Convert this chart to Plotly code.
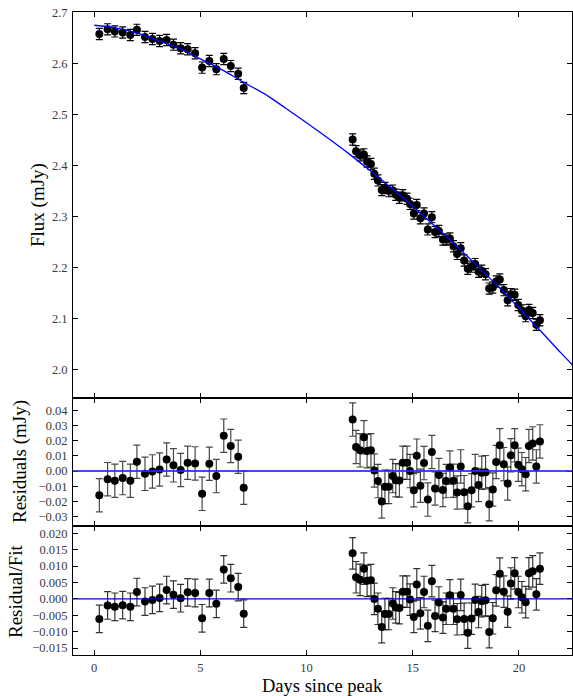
import plotly.graph_objects as go
from plotly.subplots import make_subplots

# ---------------- data ----------------
t_early = [0.24, 0.63, 0.97, 1.34, 1.70, 2.01, 2.39, 2.74, 3.08, 3.41, 3.73,
           4.07, 4.40, 4.75, 5.08, 5.42, 5.75, 6.10, 6.43, 6.78, 7.04]
flux_early = [2.658, 2.667, 2.663, 2.661, 2.656, 2.666, 2.652, 2.648, 2.644, 2.646, 2.637,
              2.630, 2.628, 2.620, 2.592, 2.605, 2.589, 2.609, 2.595, 2.580, 2.552]
resid_early = [-0.0159, -0.0053, -0.0064, -0.0046, -0.0064, 0.0062, -0.0018, -0.0002, 0.0011,
               0.0077, 0.0038, 0.0007, 0.0055, 0.0051, -0.0150, 0.0049, -0.0033, 0.0234,
               0.0166, 0.0095, -0.0110]
ratio_early = [-0.0061, -0.0020, -0.0024, -0.0019, -0.0024, 0.0021, -0.0008, -0.0003, 0.0003,
               0.0027, 0.0013, 0.0002, 0.0020, 0.0018, -0.0059, 0.0018, -0.0015, 0.0090,
               0.0063, 0.0036, -0.0045]

t_late = [12.17, 12.33, 12.52, 12.70, 12.85, 13.03, 13.19, 13.36, 13.54, 13.69, 13.87,
          14.06, 14.20, 14.37, 14.53, 14.73, 14.87, 15.05, 15.19, 15.36, 15.53, 15.71,
          15.90, 16.05, 16.23, 16.42, 16.57, 16.75, 16.92, 17.09, 17.26, 17.42, 17.59,
          17.77, 17.94, 18.10, 18.25, 18.43, 18.60, 18.77, 18.93, 19.10, 19.29, 19.47,
          19.62, 19.80, 19.97, 20.14, 20.32, 20.47, 20.65, 20.82, 20.99]
flux_late = [2.451, 2.428, 2.420, 2.422, 2.408, 2.403, 2.384, 2.371, 2.352, 2.356, 2.350,
             2.351, 2.343, 2.337, 2.342, 2.335, 2.325, 2.306, 2.323, 2.297, 2.306, 2.275,
             2.299, 2.270, 2.272, 2.255, 2.255, 2.257, 2.242, 2.227, 2.238, 2.214, 2.198,
             2.202, 2.207, 2.192, 2.194, 2.187, 2.159, 2.161, 2.173, 2.177, 2.156, 2.136,
             2.148, 2.147, 2.127, 2.116, 2.105, 2.117, 2.111, 2.088, 2.097]
resid_late = [0.0340, 0.0159, 0.0137, 0.0223, 0.0132, 0.0137, 0.0004, -0.0066, -0.0201, -0.0104,
              -0.0104, -0.0033, -0.0060, -0.0062, 0.0055, 0.0055, 0.0000, -0.0126, 0.0102,
              -0.0097, 0.0053, -0.0188, 0.0126, -0.0115, -0.0026, -0.0124, -0.0066, 0.0024,
              -0.0064, -0.0141, 0.0031, -0.0139, -0.0232, -0.0126, 0.0000, -0.0091, -0.0011,
              -0.0007, -0.0219, -0.0121, 0.0060, 0.0170, 0.0046, -0.0082, 0.0104, 0.0170,
              0.0042, 0.0013, -0.0020, 0.0166, 0.0183, 0.0031, 0.0196]
ratio_late = [0.0139, 0.0066, 0.0058, 0.0092, 0.0055, 0.0057, 0.0000, -0.0030, -0.0086, -0.0046,
              -0.0046, -0.0014, -0.0026, -0.0028, 0.0022, 0.0022, -0.0002, -0.0055, 0.0044,
              -0.0044, 0.0021, -0.0082, 0.0054, -0.0052, -0.0011, -0.0057, -0.0030, 0.0011,
              -0.0030, -0.0062, 0.0012, -0.0061, -0.0103, -0.0060, -0.0003, -0.0040, -0.0007,
              -0.0004, -0.0101, -0.0059, 0.0026, 0.0077, 0.0022, -0.0039, 0.0047, 0.0078,
              0.0021, 0.0005, -0.0010, 0.0078, 0.0084, 0.0014, 0.0092]

flux_err = 0.011
resid_err = 0.011
ratio_err_early = 0.0042
ratio_err_late = 0.0048

model_t = [0, 1, 2, 3, 4, 5, 6, 7, 8, 9, 10, 11, 12, 13, 14, 15, 16, 17, 18, 19, 20, 21, 22, 22.6]
model_flux = [2.675, 2.670, 2.660, 2.645, 2.630, 2.609, 2.588, 2.564, 2.541, 2.513, 2.484,
              2.454, 2.423, 2.390, 2.356, 2.320, 2.283, 2.245, 2.205, 2.164, 2.121, 2.077,
              2.032, 2.006]

x_ticks = [0, 5, 10, 15, 20]
flux_ticks = [2.0, 2.1, 2.2, 2.3, 2.4, 2.5, 2.6, 2.7]
resid_ticks = [-0.03, -0.02, -0.01, 0.00, 0.01, 0.02, 0.03, 0.04]
ratio_ticks = [-0.015, -0.010, -0.005, 0.000, 0.005, 0.010, 0.015, 0.020]

# ---------------- figure ----------------
FONT = "Liberation Serif"
fig = make_subplots(rows=3, cols=1, shared_xaxes=True, vertical_spacing=0,
                    row_heights=[0.6, 0.2, 0.2])

marker = dict(color="black", size=8, line=dict(width=0))


def add_points(x, y, err, row, ecolor):
    fig.add_trace(go.Scatter(
        x=x, y=y, mode="markers", marker=marker, showlegend=False,
        error_y=dict(type="constant", value=err, color=ecolor, thickness=1.2, width=3.5)),
        row=row, col=1)


add_points(t_early, flux_early, flux_err, 1, "black")
add_points(t_late, flux_late, flux_err, 1, "black")
fig.add_trace(go.Scatter(x=model_t, y=model_flux, mode="lines", line_shape="spline",
                         line=dict(color="#0000ff", width=1.3), showlegend=False),
              row=1, col=1)

add_points(t_early, resid_early, resid_err, 2, "rgba(0,0,0,0.72)")
add_points(t_late, resid_late, resid_err, 2, "rgba(0,0,0,0.72)")
fig.add_hline(y=0, line=dict(color="rgba(40,40,255,0.85)", width=2), row=2, col=1)

add_points(t_early, ratio_early, ratio_err_early, 3, "rgba(0,0,0,0.8)")
add_points(t_late, ratio_late, ratio_err_late, 3, "rgba(0,0,0,0.8)")
fig.add_hline(y=0, line=dict(color="#0000cc", width=1.2), row=3, col=1)

axis_common = dict(showline=True, linecolor="black", linewidth=1, mirror="allticks",
                   ticks="inside", ticklen=5, tickwidth=1, tickcolor="black",
                   showgrid=False, zeroline=False,
                   tickfont=dict(family=FONT, size=12.5, color="#3a3a3a"))

for r in (1, 2, 3):
    fig.update_xaxes(range=[-1, 22.5], tickvals=x_ticks, row=r, col=1, **axis_common)
fig.update_xaxes(ticklabelstandoff=1, row=3, col=1)

fig.update_yaxes(range=[1.945, 2.701], tickvals=flux_ticks, tickformat=".1f",
                 ticklabelstandoff=2, row=1, col=1, **axis_common)
fig.update_yaxes(range=[-0.0365, 0.0484], tickvals=resid_ticks, tickformat=".2f",
                 ticklabelstandoff=2, row=2, col=1, **axis_common)
fig.update_yaxes(range=[-0.0171, 0.0221], tickvals=ratio_ticks, tickformat=".3f",
                 ticklabelstandoff=2, row=3, col=1, **axis_common)

L, R, T, B = 73, 1, 12, 41
W, H = 573, 696
pw, ph = W - L - R, H - T - B


def px_x(p):
    return (p - L) / pw


def px_y(p):
    return (H - B - p) / ph


title_font = dict(family=FONT, size=19, color="black")
annots = [
    dict(text="Flux (mJy)", x=px_x(38), y=px_y(205), textangle=-90, size=19),
    dict(text="Residuals (mJy)", x=px_x(20), y=px_y(462), textangle=-90, size=19),
    dict(text="Residual/Fit", x=px_x(15), y=px_y(591), textangle=-90, size=19),
    dict(text="Days since peak", x=px_x(322.5), y=px_y(686), textangle=0, size=18.5),
]
for a in annots:
    size = a.pop("size")
    fig.add_annotation(xref="paper", yref="paper", showarrow=False,
                       xanchor="center", yanchor="middle",
                       font=dict(family=FONT, size=size, color="black"), **a)

fig.update_layout(width=W, height=H, margin=dict(l=L, r=R, t=T, b=B),
                  paper_bgcolor="white", plot_bgcolor="white",
                  font=dict(family=FONT))

fig.write_html("out.html", config={"displayModeBar": False},
               post_script="document.body.style.margin='0';document.body.style.overflow='hidden';")
